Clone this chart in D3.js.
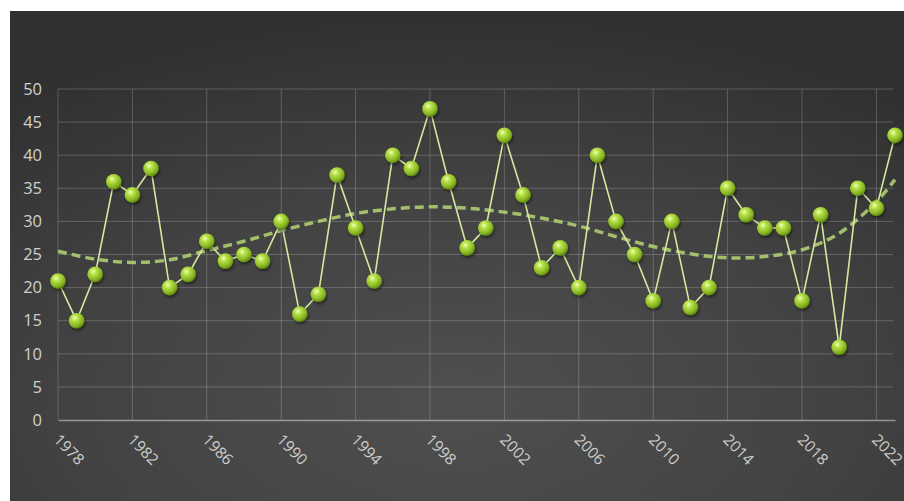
<!DOCTYPE html>
<html>
<head>
<meta charset="utf-8">
<script src="https://cdn.jsdelivr.net/npm/d3@7"></script>
<style>
html,body{margin:0;padding:0;background:#fff;}
svg{display:block;}
</style>
</head>
<body>
<svg id="chart" width="904" height="501"></svg>
<script>
// ---- data ----
const years = d3.range(1978, 2024);
const values = [21,15,22,36,34,38,20,22,27,24,25,24,30,16,19,37,29,21,40,38,47,36,26,29,43,34,23,26,20,40,30,25,18,30,17,20,35,31,29,29,18,31,11,35,32,43];
const trendYears = [1978,1980,1982,1984,1986,1988,1990,1992,1994,1996,1998,2000,2002,2004,2006,2008,2010,2012,2014,2016,2018,2020,2022,2023];
const trendValues = [25.5,24.3,23.8,24.2,25.6,27.0,28.6,30.0,31.2,31.9,32.2,32.0,31.4,30.5,29.3,27.7,26.2,25.1,24.5,24.7,25.7,28.2,33.0,36.3];
const yTicks = [0,5,10,15,20,25,30,35,40,45,50];
const xTickYears = [1978,1982,1986,1990,1994,1998,2002,2006,2010,2014,2018,2022];

const svg = d3.select("#chart");
const W = 904, H = 501;
const defs = svg.append("defs");

const bg = defs.append("radialGradient").attr("id","bg")
  .attr("cx","50%").attr("cy","80%").attr("r","80%");
bg.append("stop").attr("offset","0%").attr("stop-color","#4f4f4f");
bg.append("stop").attr("offset","55%").attr("stop-color","#424242");
bg.append("stop").attr("offset","100%").attr("stop-color","#303030");

const ball = defs.append("radialGradient").attr("id","ball")
  .attr("cx","38%").attr("cy","32%").attr("r","70%");
ball.append("stop").attr("offset","0%").attr("stop-color","#f0ffb8");
ball.append("stop").attr("offset","30%").attr("stop-color","#b6e048");
ball.append("stop").attr("offset","75%").attr("stop-color","#86b522");
ball.append("stop").attr("offset","100%").attr("stop-color","#5c8410");

const shadow = defs.append("filter").attr("id","shadow").attr("x","-50%").attr("y","-50%").attr("width","200%").attr("height","200%");
shadow.append("feDropShadow").attr("dx",1).attr("dy",2).attr("stdDeviation",1.5).attr("flood-color","#000").attr("flood-opacity",0.5);

// panel
svg.append("rect").attr("x",10).attr("y",11).attr("width",W-10).attr("height",H-11).attr("fill","url(#bg)");

const x = d3.scaleLinear().domain([1978, 2023]).range([58, 895]);
const y = d3.scaleLinear().domain([0, 50]).range([420, 89]);

// gridlines
const g = svg.append("g");
g.selectAll(".hg").data(yTicks.filter(d=>d>0)).join("line")
  .attr("x1", 58).attr("x2", 893).attr("y1", d=>y(d)).attr("y2", d=>y(d))
  .attr("stroke","rgba(255,255,255,0.2)").attr("stroke-width",1);
g.selectAll(".vg").data(xTickYears).join("line")
  .attr("x1", d=>x(d)).attr("x2", d=>x(d)).attr("y1", y(50)).attr("y2", y(0))
  .attr("stroke","rgba(255,255,255,0.2)").attr("stroke-width",1);

// x axis
const xAxis = d3.axisBottom(x).tickValues(xTickYears).tickSize(0).tickFormat(d3.format("d"));
const xa = svg.append("g").attr("transform",`translate(0,${y(0)})`).call(xAxis);
xa.select(".domain").attr("stroke","rgba(255,255,255,0.45)").attr("stroke-width",1.5);
xa.selectAll("text")
  .attr("fill","#cfcfcf").attr("font-family","'Open Sans', sans-serif").attr("font-size",15.5)
  .attr("text-anchor","start").attr("y",0).attr("dy","0.35em")
  .attr("transform","translate(-2,17) rotate(45)");

// y axis
const yAxis = d3.axisLeft(y).tickValues(yTicks).tickSize(0).tickPadding(16);
const ya = svg.append("g").attr("transform",`translate(58,0)`).call(yAxis);
ya.select(".domain").remove();
ya.selectAll("text").attr("fill","#d0d0d0").attr("font-family","'Open Sans', sans-serif").attr("font-size",16.5);

// trend line
const trend = d3.line().x((d,i)=>x(trendYears[i])).y(d=>y(d)).curve(d3.curveCatmullRom.alpha(0.5));
svg.append("path").datum(trendValues).attr("d",trend)
  .attr("fill","none").attr("stroke","#aecd72").attr("stroke-width",3.5)
  .attr("stroke-dasharray","9,5").attr("opacity",0.9);

// data line
const line = d3.line().x((d,i)=>x(years[i])).y(d=>y(d));
svg.append("path").datum(values).attr("d",line)
  .attr("fill","none").attr("stroke","#d6e8a0").attr("stroke-width",1.6);

// points
svg.append("g").selectAll("circle").data(values).join("circle")
  .attr("cx",(d,i)=>x(years[i])).attr("cy",d=>y(d)).attr("r",7.8)
  .attr("fill","url(#ball)").attr("filter","url(#shadow)");
</script>
</body>
</html>
